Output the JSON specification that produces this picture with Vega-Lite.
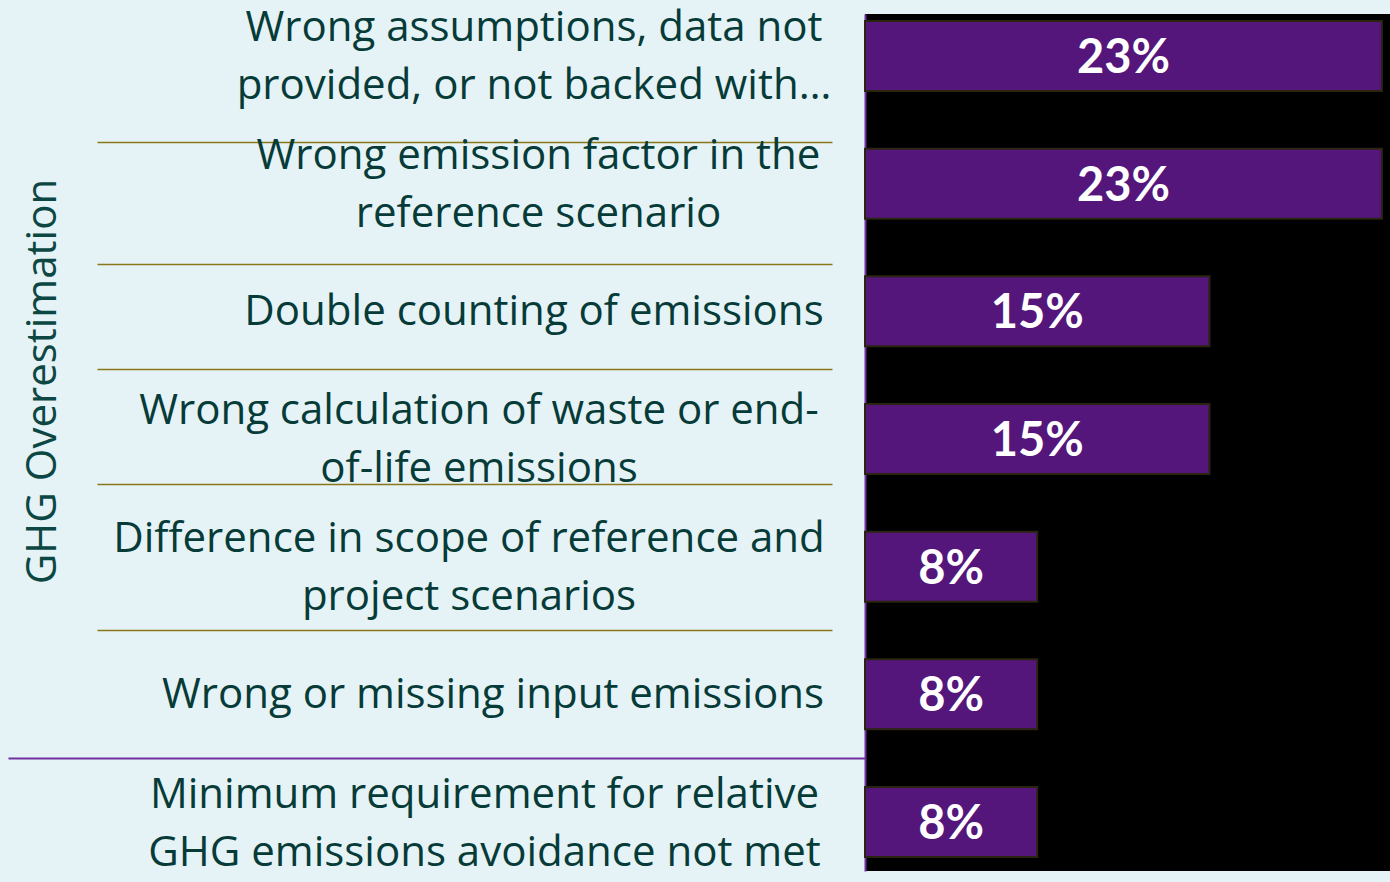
{
  "$schema": "https://vega.github.io/schema/vega-lite/v6.json",
  "autosize": {"type": "none"},
  "padding": {"left": 865, "top": 14, "right": 0, "bottom": 11},
  "width": 525,
  "height": 857,
  "background": "#e5f2f6",
  "config": {"view": {"fill": "#000000", "stroke": null}, "font": "Open Sans"},
  "data": {
    "values": [
      {"cause": "Wrong assumptions, data not\nprovided, or not backed with…", "share": 0.2308},
      {"cause": "Wrong emission factor in the\nreference scenario", "share": 0.2308},
      {"cause": "Double counting of emissions", "share": 0.1538},
      {"cause": "Wrong calculation of waste or end-\nof-life emissions", "share": 0.1538},
      {"cause": "Difference in scope of reference and\nproject scenarios", "share": 0.0769},
      {"cause": "Wrong or missing input emissions", "share": 0.0769},
      {"cause": "Minimum requirement for relative\nGHG emissions avoidance not met", "share": 0.0769}
    ]
  },
  "encoding": {
    "y": {
      "field": "cause",
      "type": "nominal",
      "sort": null,
      "scale": {"paddingInner": 0.452, "paddingOuter": 0.0822, "align": 0.333},
      "axis": {
        "title": "GHG Overestimation",
        "titleFont": "Open Sans",
        "titleFontSize": 42,
        "titleFontWeight": "normal",
        "titleColor": "#0c4744",
        "titleAngle": 270,
        "titleAlign": "center",
        "titleBaseline": "middle",
        "titleX": -823,
        "titleY": 367,
        "labelExpr": "split(datum.label, '\\n')",
        "labelFont": "Open Sans",
        "labelFontSize": 42,
        "labelColor": "#063b38",
        "labelLineHeight": 58,
        "labelAlign": "center",
        "labelBaseline": "middle",
        "labelLimit": 1000,
        "labelOverlap": false,
        "labelBound": false,
        "labelPadding": {"expr": "[-525.5,-530,-525.5,-470.5,-460.5,-484.5,-476][indexof(['Wrong a','Wrong e','Double ','Wrong c','Differe','Wrong o','Minimum'], slice(datum.value,0,7))]"},
        "labelOffset": {"expr": "[-114,-108,-58,-73,-91,-64,-28][indexof(['Wrong a','Wrong e','Double ','Wrong c','Differe','Wrong o','Minimum'], slice(datum.value,0,7))]"},
        "tickOffset": {"expr": "[86,80,58,45,63,64,0][indexof(['Wrong a','Wrong e','Double ','Wrong c','Differe','Wrong o','Minimum'], slice(datum.value,0,7))]"},
        "tickSize": 857,
        "tickColor": {"condition": {"test": "slice(datum.value,0,7)=='Wrong o'", "value": "#7030a0"}, "value": "#8b7719"},
        "tickWidth": {"condition": {"test": "slice(datum.value,0,7)=='Wrong o'", "value": 2}, "value": 1.5},
        "tickDash": {"condition": {"test": "slice(datum.value,0,7)=='Wrong o'", "value": [900, 1]}, "value": [0, 33, 735, 200]},
        "tickOpacity": {"condition": {"test": "slice(datum.value,0,7)=='Minimum'", "value": 0}, "value": 1},
        "domainColor": "#7030a0",
        "domainWidth": 2,
        "grid": false
      }
    }
  },
  "layer": [
    {
      "mark": {"type": "bar", "fill": "#54167b", "stroke": "#2a2411", "strokeWidth": 2},
      "encoding": {
        "x": {"field": "share", "type": "quantitative", "scale": {"domain": [0, 0.2344], "nice": false}, "axis": null}
      }
    },
    {
      "mark": {"type": "text", "font": "Lato", "fontWeight": "bold", "fontSize": 47, "color": "#ffffff", "baseline": "middle", "align": "center", "dy": 3},
      "encoding": {
        "x": {"field": "share", "type": "quantitative", "scale": {"domain": [0, 0.4688], "nice": false}, "axis": null},
        "text": {"field": "share", "type": "quantitative", "format": ".0%"}
      }
    }
  ],
  "resolve": {"scale": {"x": "independent"}}
}
